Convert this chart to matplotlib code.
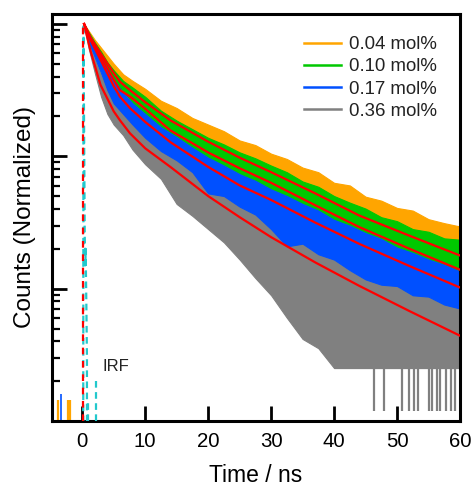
import matplotlib
matplotlib.use('Agg')
import matplotlib.pyplot as plt
import numpy as np
from matplotlib.lines import Line2D
from matplotlib.ticker import LogLocator, NullFormatter, FixedLocator

plt.rcParams['font.family'] = ['Liberation Sans', 'DejaVu Sans']

# ---------------- data ----------------
labels = ['0.04 mol%', '0.10 mol%', '0.17 mol%', '0.36 mol%']
colors = ['#FFA500', '#00C800', '#0050FF', '#808080']

# fitted decay curves (normalized counts)
fit_t = [0.3, 1.3, 2.9, 5.0, 6.0, 7.6, 10, 14, 20, 25, 30, 37, 44, 52, 60]
fit_004 = [1.0, 0.794, 0.603, 0.427, 0.366, 0.316, 0.257, 0.187, 0.129, 0.0977, 0.0759, 0.0525, 0.0357, 0.0251, 0.0178]
fit_010 = [1.0, 0.776, 0.575, 0.380, 0.316, 0.283, 0.229, 0.157, 0.107, 0.0813, 0.0631, 0.0427, 0.0292, 0.0200, 0.0139]
fit_017 = [1.0, 0.759, 0.537, 0.339, 0.282, 0.231, 0.182, 0.128, 0.0832, 0.0603, 0.0468, 0.0316, 0.0218, 0.0148, 0.0102]
fit_036 = [1.0, 0.631, 0.347, 0.219, 0.187, 0.149, 0.115, 0.0832, 0.0501, 0.0347, 0.0245, 0.0158, 0.0105, 0.00676, 0.00441]

# envelope of the noisy measured decays, log10 of normalized counts
env_t = [0.3, 1, 2, 3, 4, 5, 6.5, 8, 10, 12.5, 15, 17.5, 20, 22.5, 25, 27.5, 30,
         32.5, 35, 37.5, 40, 42.5, 45, 47.5, 50, 52.5, 55, 57.5, 60]
upper_004_log10 = [0.0, -0.05, -0.12, -0.18, -0.24, -0.30, -0.38, -0.43, -0.49, -0.58, -0.635, -0.71, -0.76, -0.81,
                   -0.88, -0.915, -0.98, -1.02, -1.085, -1.12, -1.20, -1.22, -1.305, -1.335, -1.39, -1.41, -1.475, -1.505, -1.53]
lower_004_log10 = [-0.02, -0.10, -0.20, -0.29, -0.37, -0.45, -0.55, -0.62, -0.70, -0.80, -0.89, -0.97, -1.05, -1.12,
                   -1.19, -1.26, -1.32, -1.39, -1.45, -1.51, -1.58, -1.64, -1.70, -1.76, -1.81, -1.87, -1.92, -1.98, -2.03]
upper_010_log10 = [0.0, -0.06, -0.14, -0.21, -0.29, -0.35, -0.43, -0.48, -0.55, -0.655, -0.73, -0.795, -0.86, -0.91,
                   -0.97, -1.015, -1.07, -1.12, -1.19, -1.23, -1.30, -1.35, -1.395, -1.46, -1.49, -1.55, -1.57, -1.62, -1.63]
lower_010_log10 = [-0.02, -0.12, -0.22, -0.31, -0.40, -0.48, -0.58, -0.65, -0.74, -0.86, -0.95, -1.04, -1.11, -1.18,
                   -1.25, -1.31, -1.37, -1.44, -1.50, -1.57, -1.63, -1.70, -1.76, -1.82, -1.87, -1.93, -1.98, -2.04, -2.08]
upper_017_log10 = [0.0, -0.07, -0.16, -0.25, -0.34, -0.42, -0.52, -0.60, -0.68, -0.78, -0.855, -0.935, -1.01, -1.07,
                   -1.135, -1.185, -1.25, -1.30, -1.36, -1.41, -1.48, -1.525, -1.58, -1.625, -1.69, -1.73, -1.78, -1.82, -1.87]
lower_017_log10 = [-0.02, -0.13, -0.25, -0.37, -0.50, -0.60, -0.68, -0.76, -0.86, -0.96, -1.03, -1.12, -1.28, -1.30,
                   -1.38, -1.44, -1.55, -1.68, -1.66, -1.74, -1.78, -1.86, -1.93, -1.97, -1.98, -2.05, -2.06, -2.12, -2.15]
upper_036_log10 = [0.0, -0.10, -0.26, -0.38, -0.47, -0.54, -0.63, -0.71, -0.80, -0.88, -0.96, -1.04, -1.12, -1.19,
                   -1.26, -1.33, -1.40, -1.46, -1.52, -1.58, -1.64, -1.70, -1.76, -1.81, -1.87, -1.92, -1.97, -2.03, -2.08]
lower_036_log10 = [-0.02, -0.18, -0.37, -0.55, -0.68, -0.76, -0.84, -0.95, -1.06, -1.17, -1.36, -1.45, -1.55, -1.65,
                   -1.78, -1.92, -2.05, -2.22, -2.38, -2.45, -2.60, -2.60, -2.60, -2.60, -2.60, -2.60, -2.60, -2.60, -2.60]

# single-count dropouts of the 0.36 mol% decay
dip_036_t = [46.3, 47.9, 50.8, 51.9, 52.7, 53.4, 55.0, 55.5, 56.3, 56.9, 57.7, 58.5, 59.2]
dip_036_v = [0.0012, 0.0012, 0.0012, 0.0012, 0.0012, 0.0012, 0.0012, 0.0012, 0.0012, 0.0012,
             0.0012, 0.0012, 0.0012]

# background counts before the pulse
bg_004_t = [-3.8, -2.3, -2.0]
bg_004_v = [0.00145, 0.00145, 0.00145]
bg_017_t = [-3.3]
bg_017_v = [0.0016]

# instrument response function
irf_t = [0.15, 0.2, 0.3, 0.4, 0.5, 0.55, 0.6, 0.65, 0.7, 0.75, 0.75]
irf_v = [1e-4, 1.0, 0.15, 0.025, 0.015, 0.02, 0.012, 0.008, 0.005, 0.003, 1e-4]
irf_spike_t = [0.9, 2.15]
irf_spike_v = [0.0014, 0.0021]

# ---------------- plot ----------------
fig = plt.figure(figsize=(4.75, 4.88), dpi=100)
ax = fig.add_axes([52 / 475, (488 - 421) / 488, 408 / 475, 407 / 488])
ax.set_yscale('log')
ymin, ymax = 1e-3, 1.19
ax.set_xlim(-4.8, 60)
ax.set_ylim(ymin, ymax)

bands = [
    (lower_036_log10, upper_036_log10, colors[3]),
    (lower_004_log10, upper_004_log10, colors[0]),
    (lower_010_log10, upper_010_log10, colors[1]),
    (lower_017_log10, upper_017_log10, colors[2]),
]
for lo, hi, c in bands:
    ax.fill_between(env_t, 10 ** np.array(lo), 10 ** np.array(hi), color=c, lw=0.8, edgecolor=c, zorder=2)

ax.vlines(dip_036_t, dip_036_v, 10 ** -2.6, color=colors[3], lw=1.6, zorder=2)
ax.vlines(bg_004_t, ymin, bg_004_v, color=colors[0], lw=1.6, zorder=2)
ax.vlines(bg_017_t, ymin, bg_017_v, color=colors[2], lw=1.2, zorder=2)

irf_color = '#22C8CC'
ax.plot(irf_t, irf_v, color=irf_color, lw=1.6, dashes=(3, 2), zorder=3)
ax.vlines(irf_spike_t, ymin, irf_spike_v, color=irf_color, lw=1.6, linestyles=(0, (3, 2)), zorder=3)
ax.text(3.2, 0.0026, 'IRF', fontsize=12, va='center', ha='left', color='#222222')

for f in [fit_004, fit_010, fit_017, fit_036]:
    ax.plot(fit_t, f, color='#FF0000', lw=1.6, zorder=4)
ax.plot([0.15, 0.15], [ymin, 1.0], color='#FF0000', lw=1.6, dashes=(3, 3), zorder=4)

handles = [Line2D([], [], color=c, lw=1.8) for c in colors]
leg = ax.legend(handles, labels, loc='upper left', bbox_to_anchor=((304 - 52) / 408, (421 - 36) / 407),
                frameon=False, fontsize=13.4, handlelength=2.0, handletextpad=0.4, labelspacing=0.28,
                borderpad=0, borderaxespad=0)
for t in leg.get_texts():
    t.set_color('#222222')

for s in ax.spines.values():
    s.set_linewidth(2.2)
ax.xaxis.set_major_locator(FixedLocator([0, 10, 20, 30, 40, 50, 60]))
ax.tick_params(axis='x', direction='in', length=11, width=2, labelsize=14.7, pad=8, top=False)
ax.yaxis.set_major_locator(LogLocator(base=10, numticks=10))
ax.yaxis.set_minor_locator(LogLocator(base=10, subs=np.arange(2, 10), numticks=20))
ax.yaxis.set_minor_formatter(NullFormatter())
ax.tick_params(axis='y', which='major', direction='in', length=11, width=2, labelleft=False, right=False)
ax.tick_params(axis='y', which='minor', direction='in', length=6, width=1.6, right=False)

ax.set_xlabel('Time / ns', fontsize=16.5, labelpad=9)
ax.set_ylabel('Counts (Normalized)', fontsize=17.5, labelpad=8)

fig.savefig('out.png', dpi=100)
